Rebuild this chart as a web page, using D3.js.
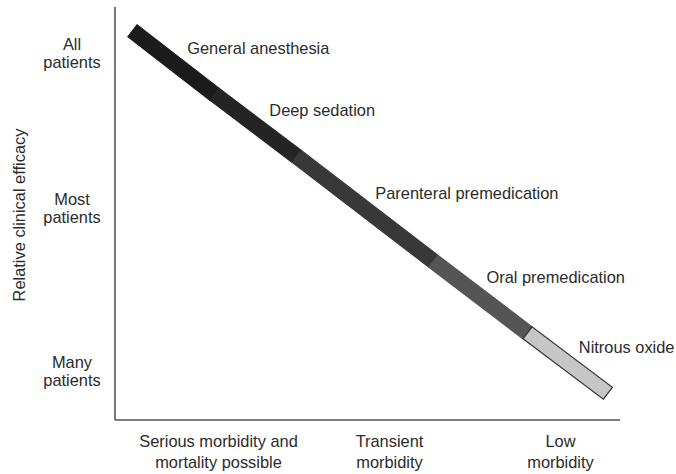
<!DOCTYPE html>
<html>
<head>
<meta charset="utf-8">
<script src="https://cdn.jsdelivr.net/npm/d3@7"></script>
<style>
  html, body { margin: 0; padding: 0; background: #ffffff; }
  svg { display: block; }
  text { font-family: "Liberation Sans", Arial, Helvetica, sans-serif; fill: #2b2b2b; }
</style>
</head>
<body>
<svg id="chart" width="676" height="474"></svg>
<script>
// ---- Data ----
const treatments = ["General anesthesia", "Deep sedation", "Parenteral premedication", "Oral premedication", "Nitrous oxide"];
const morbidityStart = [0.50, 0.98, 1.46, 2.26, 2.81];
const morbidityEnd   = [0.98, 1.46, 2.26, 2.81, 3.28];
const efficacyStart  = [3.14, 2.74, 2.35, 1.69, 1.24];
const efficacyEnd    = [2.74, 2.35, 1.69, 1.24, 0.86];
const labelMorbidity = [0.82, 1.30, 1.92, 2.57, 3.11];
const labelEfficacy  = [3.03, 2.64, 2.12, 1.59, 1.15];

const xTickValues = [1, 2, 3];
const xTickLabels = [["Serious morbidity and", "mortality possible"], ["Transient", "morbidity"], ["Low", "morbidity"]];
const yTickValues = [1, 2.02, 3];
const yTickLabels = [["Many", "patients"], ["Most", "patients"], ["All", "patients"]];
const yTitle = "Relative clinical efficacy";

// ---- Styles ----
const segColors = ["#1b1b1b", "#242424", "#383838", "#555555", "#c6c6c6"];
const bandWidth = 15;
const fontSize = 16.4;

const svg = d3.select("#chart");
const x = d3.scaleLinear().domain([1, 3]).range([218, 560]);
const y = d3.scaleLinear().domain([1, 3]).range([371, 53]);

const axisX0 = 115, axisY0 = 420;

// axis lines
svg.append("line").attr("x1", axisX0).attr("x2", axisX0).attr("y1", 7).attr("y2", axisY0)
  .attr("stroke", "#555").attr("stroke-width", 1.6);
svg.append("line").attr("x1", axisX0).attr("x2", 620).attr("y1", axisY0).attr("y2", axisY0)
  .attr("stroke", "#555").attr("stroke-width", 1.6);

// x axis ticks (labels only)
const gx = svg.append("g").attr("transform", `translate(0,${axisY0})`)
  .call(d3.axisBottom(x).tickValues(xTickValues).tickSize(0).tickFormat(""));
gx.select(".domain").remove();
gx.selectAll(".tick text").remove();
gx.selectAll(".tick").each(function(d, i) {
  const t = d3.select(this).append("text")
    .attr("text-anchor", "middle").attr("font-size", fontSize).attr("fill", "#2b2b2b");
  xTickLabels[i].forEach((line, j) => {
    t.append("tspan").attr("x", 0).attr("y", 27 + j * 21).text(line);
  });
});

// y axis ticks (labels only)
const gy = svg.append("g").attr("transform", `translate(${axisX0},0)`)
  .call(d3.axisLeft(y).tickValues(yTickValues).tickSize(0).tickFormat(""));
gy.select(".domain").remove();
gy.selectAll(".tick text").remove();
gy.selectAll(".tick").each(function(d, i) {
  const t = d3.select(this).append("text")
    .attr("text-anchor", "middle").attr("font-size", fontSize).attr("fill", "#2b2b2b");
  yTickLabels[i].forEach((line, j) => {
    t.append("tspan").attr("x", -43).attr("y", -4 + j * 18).text(line);
  });
});

// y title
svg.append("text")
  .attr("transform", `translate(25,${y(2) + 3}) rotate(-90)`)
  .attr("text-anchor", "middle").attr("font-size", fontSize)
  .text(yTitle);

// band
const n = treatments.length;
const sx = x(morbidityStart[0]), sy = y(efficacyStart[0]);
const ex = x(morbidityEnd[n - 1]), ey = y(efficacyEnd[n - 1]);
const len = Math.hypot(ex - sx, ey - sy);
const nx = -(ey - sy) / len * bandWidth / 2, ny = (ex - sx) / len * bandWidth / 2;

const segs = treatments.map((t, i) => ({
  name: t,
  x0: x(morbidityStart[i]), y0: y(efficacyStart[i]),
  x1: x(morbidityEnd[i]), y1: y(efficacyEnd[i]),
  color: segColors[i]
}));

svg.append("g").selectAll("path").data(segs).join("path")
  .attr("d", d => `M${d.x0 + nx},${d.y0 + ny}L${d.x1 + nx},${d.y1 + ny}L${d.x1 - nx},${d.y1 - ny}L${d.x0 - nx},${d.y0 - ny}Z`)
  .attr("fill", d => d.color)
  .attr("stroke", (d, i) => i === n - 1 ? "#333" : d.color)
  .attr("stroke-width", 1.2)
  .attr("stroke-linejoin", "miter");

// labels
svg.append("g").selectAll("text").data(treatments).join("text")
  .attr("x", (d, i) => x(labelMorbidity[i]))
  .attr("y", (d, i) => y(labelEfficacy[i]))
  .attr("dy", "0.35em")
  .attr("font-size", fontSize)
  .text(d => d);
</script>
</body>
</html>
